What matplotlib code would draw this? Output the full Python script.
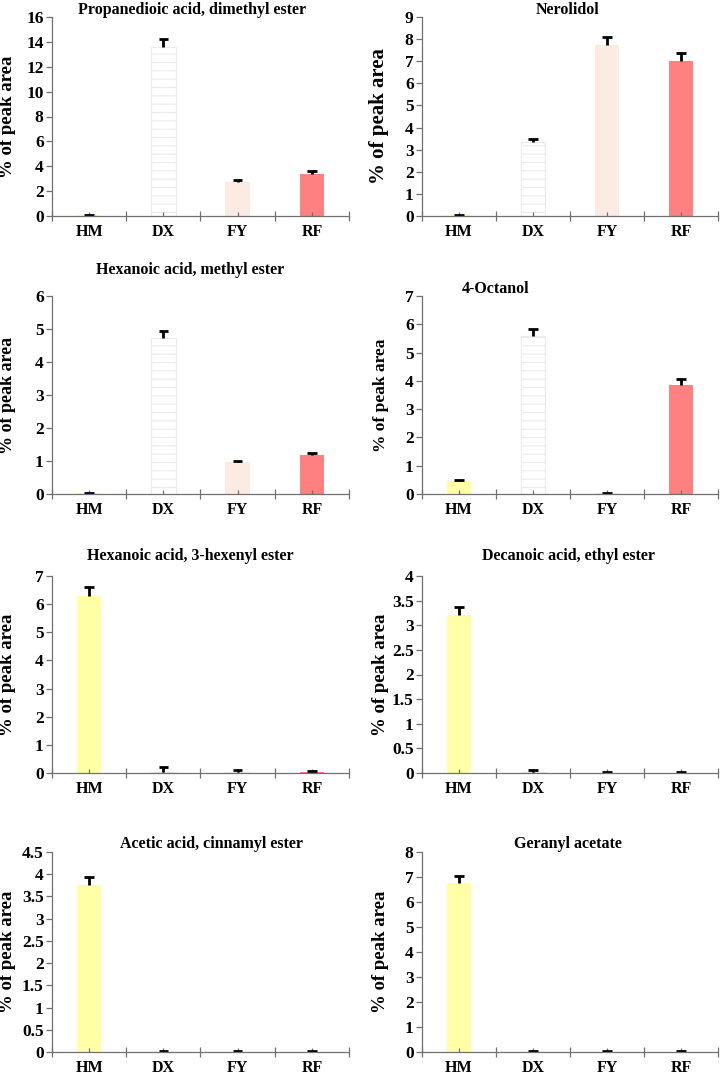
import matplotlib.pyplot as plt
import numpy as np

plt.rcParams["font.family"] = ["Liberation Serif", "DejaVu Serif"]
plt.rcParams["font.weight"] = "bold"
plt.rcParams["hatch.color"] = "#ececec"
plt.rcParams["hatch.linewidth"] = 0.8

groups = ["HM", "DX", "FY", "RF"]
colors = ["#ffffa6", "#ffffff", "#fbebe2", "#ff8080"]

titles = [
    "Propanedioic acid, dimethyl ester",
    "Nerolidol",
    "Hexanoic acid, methyl ester",
    "4-Octanol",
    "Hexanoic acid, 3-hexenyl ester",
    "Decanoic acid, ethyl ester",
    "Acetic acid, cinnamyl ester",
    "Geranyl acetate",
]
means = [
    [0.05, 13.6, 2.75, 3.4],
    [0.03, 3.35, 7.75, 7.0],
    [0.02, 4.72, 0.97, 1.17],
    [0.45, 5.58, 0.02, 3.87],
    [6.3, 0.05, 0.03, 0.03],
    [3.2, 0.02, 0.01, 0.01],
    [3.75, 0.01, 0.01, 0.01],
    [6.75, 0.01, 0.01, 0.01],
]
errors = [
    [0.05, 0.6, 0.15, 0.2],
    [0.03, 0.15, 0.35, 0.35],
    [0.02, 0.22, 0.04, 0.06],
    [0.03, 0.25, 0.02, 0.18],
    [0.3, 0.15, 0.07, 0.03],
    [0.17, 0.05, 0.02, 0.01],
    [0.18, 0.02, 0.02, 0.02],
    [0.3, 0.02, 0.02, 0.02],
]
ymax = [16, 9, 6, 7, 7, 4, 4.5, 8]
ystep = [2, 1, 1, 1, 1, 0.5, 0.5, 1]

W, H = 720, 1075
# pixel boxes of the plotting areas
cols = [(52, 349), (422, 718)]
rows = [(17, 216), (296, 494), (576, 773), (852, 1052)]
# title centre (x, y) in pixels
title_pos = [(192, 10), (568, 10), (190, 270), (496, 289),
             (190, 556), (568, 556), (212, 844), (568, 844)]
ylab_size = [13.5, 15, 13, 12.5, 13.5, 13.5, 13.5, 13.5]

fig = plt.figure(figsize=(W / 100, H / 100), dpi=100)

for i in range(8):
    r, c = divmod(i, 2)
    x0, x1 = cols[c]
    y0, y1 = rows[r]
    ax = fig.add_axes([x0 / W, 1 - y1 / H, (x1 - x0) / W, (y1 - y0) / H])
    x = np.arange(len(groups))
    m = np.array(means[i])
    e = np.array(errors[i])
    bars = ax.bar(x, m, width=0.33, color=colors, linewidth=0)
    bars[1].set_hatch("--")
    bars[1].set_edgecolor("#ebebeb")
    bars[1].set_linewidth(0.8)
    # upper-only error bars
    ax.vlines(x, m, m + e, color="black", linewidth=2)
    ax.hlines(m + e, x - 0.065, x + 0.065, color="black", linewidth=2)
    ax.set_xlim(-0.5, 3.5)
    ax.set_ylim(0, ymax[i])
    ax.set_yticks(np.arange(0, ymax[i] + ystep[i] / 2, ystep[i]))
    ax.yaxis.set_major_formatter(plt.FuncFormatter(lambda v, p: f"{v:g}"))
    ax.set_xticks(np.arange(-0.5, 4, 1))
    ax.set_xticklabels([])
    ax.set_xticks(x, minor=True)
    ax.set_xticklabels(groups, minor=True, fontsize=11.5, fontweight="bold")
    ax.tick_params(axis="x", which="major", direction="inout", length=7,
                   color="#707070", width=0.9)
    ax.tick_params(axis="x", which="minor", direction="in", length=3,
                   color="#707070", width=0.9, pad=6)
    ax.tick_params(axis="y", direction="out", length=4, color="#707070",
                   width=0.9, labelsize=12.5, pad=2)
    for lab in ax.get_yticklabels():
        lab.set_fontweight("bold")
    for s in ("top", "right"):
        ax.spines[s].set_visible(False)
    for s in ("left", "bottom"):
        ax.spines[s].set_color("#707070")
        ax.spines[s].set_linewidth(0.9)
    ax.set_ylabel("% of peak area", fontsize=ylab_size[i], fontweight="bold")
    lx = 16 if c == 0 else 389
    ax.yaxis.set_label_coords((lx - x0) / (x1 - x0), 0.5)
    tx, ty = title_pos[i]
    fig.text(tx / W, 1 - ty / H, titles[i], ha="center", va="center",
             fontsize=11.5, fontweight="bold")

fig.savefig("out.png", dpi=100)
